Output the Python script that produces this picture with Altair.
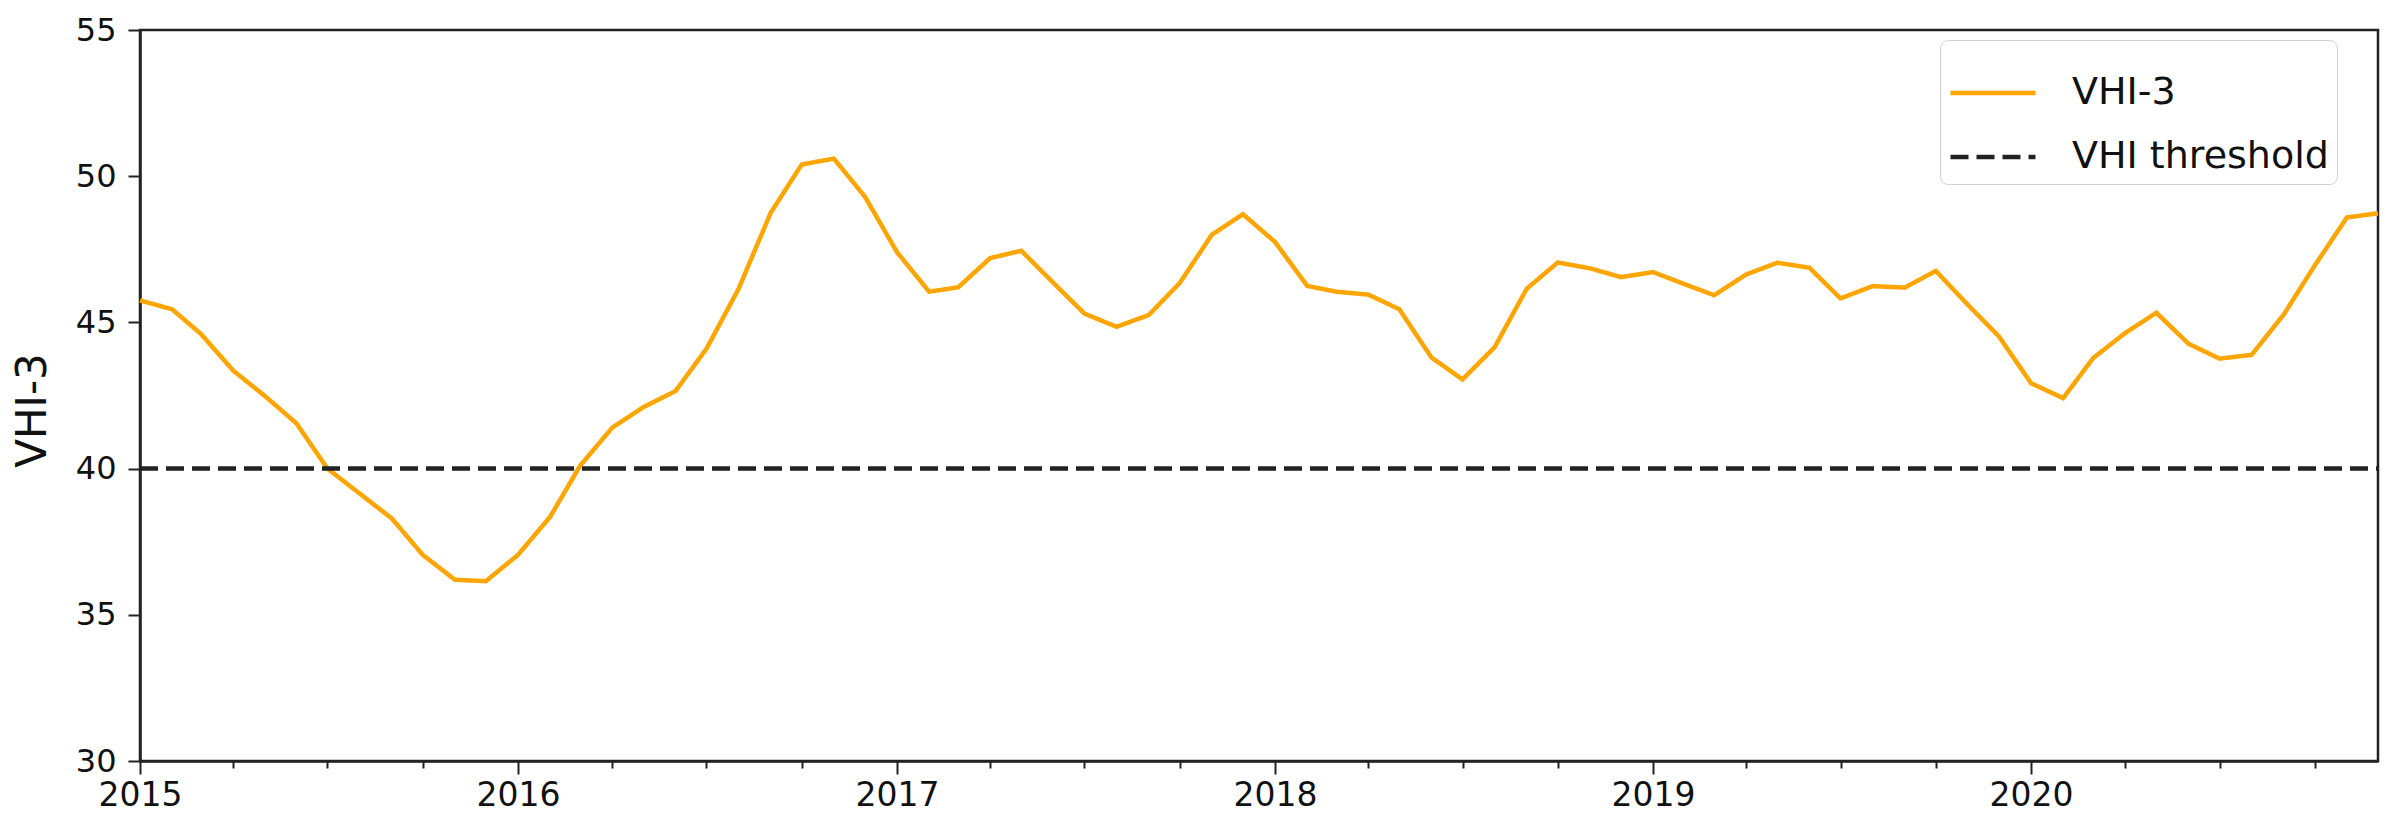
import altair as alt
import pandas as pd

# ---- data ----
months = [f"{y}-{m:02d}-01" for y in range(2015, 2021) for m in range(1, 13)]
vhi3 = [
    45.75, 45.45, 44.60, 43.35, 42.50, 41.55, 40.00, 39.15, 38.30, 37.05, 36.20, 36.15,  # 2015
    37.05, 38.35, 40.10, 41.40, 42.10, 42.65, 44.10, 46.15, 48.75, 50.40, 50.60, 49.30,  # 2016
    47.40, 46.05, 46.20, 47.20, 47.45, 46.35, 45.30, 44.85, 45.25, 46.35, 48.00, 48.70,  # 2017
    47.75, 46.25, 46.05, 45.95, 45.45, 43.80, 43.05, 44.15, 46.15, 47.05, 46.85, 46.55,  # 2018
    46.72, 46.30, 45.93, 46.64, 47.04, 46.87, 45.82, 46.24, 46.19, 46.76, 45.60, 44.52,  # 2019
    42.92, 42.41, 43.78, 44.64, 45.33, 44.27, 43.76, 43.89, 45.27, 46.95, 48.59, 48.73,  # 2020
]
threshold = 40
series_names = ["VHI-3", "VHI threshold"]
series_colors = ["#FFA500", "#222222"]
y_ticks = [30, 35, 40, 45, 50, 55]
years = [2015, 2016, 2017, 2018, 2019, 2020]
quarter_months = [1, 4, 7, 10]

df_line = pd.DataFrame({"date": months, "value": vhi3, "series": series_names[0]})
df_thr = pd.DataFrame({"date": [months[0], months[-1]], "value": [threshold, threshold],
                       "series": series_names[1]})
df = pd.concat([df_line, df_thr], ignore_index=True)

FONT = "DejaVu Sans"

x_values = [alt.DateTime(year=y, month=m, date=1, utc=True) for y in years for m in quarter_months]

legend = alt.Legend(
    title=None,
    orient="none",
    legendX=1800,
    legendY=10,
    direction="vertical",
    symbolType="stroke",
    symbolSize=7225,
    symbolStrokeWidth=4,
    labelFontSize=38,
    labelFont=FONT,
    labelColor="#111111",
    labelOffset=34,
    labelLimit=800,
    padding=8,
    rowPadding=-1,
    cornerRadius=8,
    strokeColor="#d0d0d0",
    fillColor="white",
)

chart = alt.Chart(df).mark_line().encode(
    x=alt.X(
        "date:T",
        scale=alt.Scale(
            type="utc",
            domain=[alt.DateTime(year=2015, month=1, date=1, utc=True),
                    alt.DateTime(year=2020, month=12, date=1, utc=True)],
        ),
        axis=alt.Axis(
            title=None,
            values=x_values,
            labelExpr="utcmonth(datum.value) == 0 ? utcFormat(datum.value, '%Y') : ''",
            tickSize={"condition": {"test": "utcmonth(datum.value) == 0", "value": 13}, "value": 7},
            labelFontSize=33,
            labelFont=FONT,
            labelColor="#111111",
            labelPadding=5,
            labelFlush=False,
            labelOverlap=False,
            grid=False,
        ),
    ),
    y=alt.Y(
        "value:Q",
        scale=alt.Scale(domain=[30, 55], nice=False, zero=False),
        axis=alt.Axis(
            title="VHI-3",
            values=y_ticks,
            tickSize=12,
            labelFontSize=32,
            labelFont=FONT,
            labelColor="#111111",
            labelPadding=12,
            titleFontSize=42,
            titleFont=FONT,
            titleFontWeight="normal",
            titleColor="#111111",
            titleX=-95,
            titleY=380,
            titleAlign="center",
            titleBaseline="alphabetic",
            grid=False,
        ),
    ),
    color=alt.Color("series:N", scale=alt.Scale(domain=series_names, range=series_colors), legend=legend),
    strokeDash=alt.StrokeDash("series:N", scale=alt.Scale(domain=series_names, range=[[1, 0], [18, 8]]),
                              legend=legend),
    strokeWidth=alt.StrokeWidth("series:N", scale=alt.Scale(domain=series_names, range=[4.5, 4.5]),
                                legend=None),
).properties(
    width=2238,
    height=731,
    autosize=alt.AutoSizeParams(type="none"),
    padding={"left": 132, "top": 22, "right": 7, "bottom": 71},
    background="white",
).configure_view(
    stroke="#222222",
    strokeWidth=2.5,
).configure_axis(
    domainColor="#222222",
    domainWidth=2.5,
    tickColor="#222222",
    tickWidth=2,
)

chart.save("out.html", embed_options={"renderer": "svg", "actions": False})
